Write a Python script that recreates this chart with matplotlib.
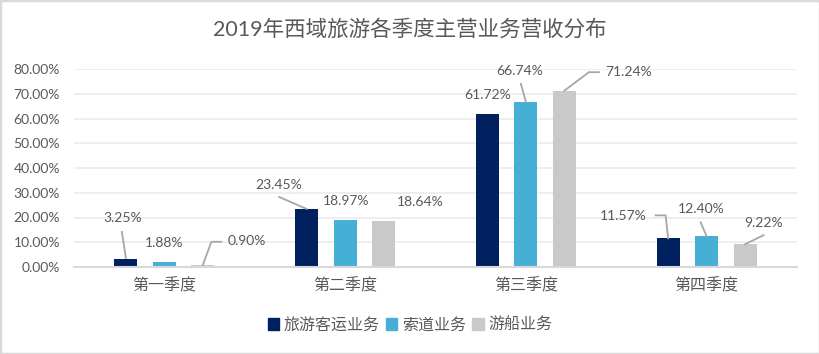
import matplotlib
matplotlib.use('Agg')
import matplotlib.pyplot as plt
from matplotlib.lines import Line2D
from matplotlib.patches import Rectangle
from matplotlib.ticker import FuncFormatter, MultipleLocator
import numpy as np

plt.rcParams['font.family'] = ['Lato', 'Noto Sans CJK SC']

categories = ['第一季度', '第二季度', '第三季度', '第四季度']
series_names = ['旅游客运业务', '索道业务', '游船业务']
passenger = [3.25, 23.45, 61.72, 11.57]
cableway = [1.88, 18.97, 66.74, 12.40]
cruise = [0.90, 18.64, 71.24, 9.22]
series_values = [passenger, cableway, cruise]
colors = ['#002060', '#45AFD6', '#C9C9C9']

text_color = '#595959'
leader_color = '#A6A6A6'

# label placement in pixels relative to the top of each bar: (dx, dy, leader points)
label_layout = {
    (0, 0): (-3.5, 41, [(0, 1), (-4, 27)]),
    (1, 0): (0, 19, None),
    (2, 0): (43.5, 24, [(0, 0), (8.5, 23), (18.5, 23)]),
    (0, 1): (-27.5, 23.5, [(0, 0), (-27.5, 12)]),
    (1, 1): (1, 19, None),
    (2, 1): (36.5, 18.5, None),
    (0, 2): (0.5, 19, None),
    (1, 2): (-6, 31, [(0, 0), (-5, 18)]),
    (2, 2): (64.5, 18.5, [(0, 0), (24.5, 18.5), (34.5, 18.5)]),
    (0, 3): (-44.5, 22, [(0, 0), (-2.5, 23), (-12.5, 23)]),
    (1, 3): (-5, 27, [(0, 0), (-6, 14)]),
    (2, 3): (18.5, 21, [(0, 0), (18.5, 9)]),
}

fig = plt.figure(figsize=(8.2, 3.54), dpi=100)
ax = fig.add_axes([74 / 820, (354 - 267) / 354, 723 / 820, 198 / 354])

x = np.arange(len(categories))
width = 0.127
step = 0.213

for i, (vals, color, name) in enumerate(zip(series_values, colors, series_names)):
    ax.bar(x + (i - 1) * step, vals, width, color=color, label=name, zorder=3)

ax.set_xlim(-0.5, len(categories) - 0.5)
ax.set_ylim(0, 80)
ax.yaxis.set_major_locator(MultipleLocator(10))
ax.yaxis.set_major_formatter(FuncFormatter(lambda v, p: f'{v:.2f}%'))
ax.grid(axis='y', color='#EBEBEB', linewidth=1.2, zorder=0)
ax.set_axisbelow(True)
for side in ['top', 'right', 'left']:
    ax.spines[side].set_visible(False)
ax.spines['bottom'].set_color('#D9D9D9')
ax.spines['bottom'].set_linewidth(1.5)
ax.spines['bottom'].set_zorder(4)

ax.set_xticks(x)
ax.set_xticklabels(categories, fontsize=11.5, color=text_color)
ax.tick_params(axis='x', length=0, pad=8)
ax.tick_params(axis='y', length=0, pad=10, labelsize=10, labelcolor=text_color)

# data labels with leader lines
for (i, j), (dx, dy, leader) in label_layout.items():
    v = series_values[i][j]
    bx = x[j] + (i - 1) * step
    ax.annotate(f'{v:.2f}%', xy=(bx, v), xytext=(dx, dy), textcoords='offset pixels',
                ha='center', va='center', fontsize=10, color=text_color, zorder=5)
    if leader:
        base = ax.transData.transform((bx, v))
        pts = base + np.array(leader, dtype=float)
        fig.add_artist(Line2D(pts[:, 0], pts[:, 1], transform=None,
                              color=leader_color, linewidth=1.3, zorder=5))

fig.text(0.5, 1 - 29 / 354, '2019年西域旅游各季度主营业务营收分布', ha='center', va='center',
         fontsize=15.5, color=text_color)

handles = [Rectangle((0, 0), 1, 1, color=c) for c in colors]
fig.legend(handles, series_names, loc='center', bbox_to_anchor=(410 / 820, 1 - 325 / 354),
           ncol=3, frameon=False, fontsize=11.5, labelcolor=text_color,
           handlelength=0.7, handleheight=0.7, handletextpad=0.3, columnspacing=0.4)

fig.add_artist(Rectangle((0, 0), 1, 1, transform=fig.transFigure, fill=False,
                         edgecolor='#D9D9D9', linewidth=2.5))

fig.savefig('out.png', dpi=100)
